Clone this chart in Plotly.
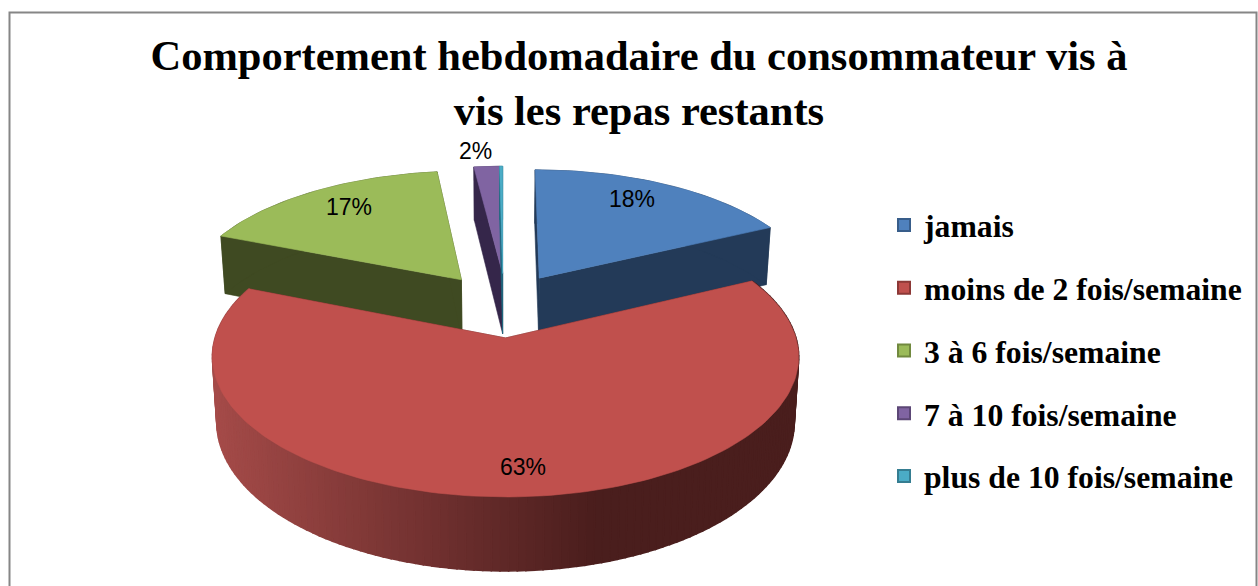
import math
import plotly.graph_objects as go

# ---- data ----
categories = ["jamais", "moins de 2 fois/semaine", "3 à 6 fois/semaine",
              "7 à 10 fois/semaine", "plus de 10 fois/semaine"]
values = [17.8, 63.4, 17.0, 1.7, 0.2]
percent_labels = ["18%", "63%", "17%", "2%", None]
title_text = "Comportement hebdomadaire du consommateur vis à<br>vis les repas restants"

# ---- styles ----
top_colors = ["#4f81bd", "#c0504d", "#9bbb59", "#8064a2", "#4bacc6"]
wall_colors = ["#233a58", "#5a2322", "#3f4a22", "#35264a", "#1f6a80"]
legend_edge = ["#385d8a", "#8c3836", "#71893f", "#5c4776", "#357d91"]

# ---- projection of the tilted pie to the canvas ----
CX, CY = 503.0, 304.7
A, B, K, DEPTH = 281.0, 128.8, 0.13, 62.0
BOTTOM_SHRINK = 0.985
PULL = 0.25
PULL_SHIFT_X = [0.0, 0.0, 0.0, 0.015, 0.0]
FIRST_ANGLE = 0.0
label_xy = [(632, 199), (523, 467), (349, 207), (475, 151)]


def project(px, py, z=0.0):
    w = 1 + K * py
    x = A * px / w
    if z:
        x *= BOTTOM_SHRINK
    return CX + x, CY - (B * py + DEPTH * z) / w


def hexrgb(h):
    return tuple(int(h[i:i + 2], 16) for i in (1, 3, 5))


def side_color(x):
    t = min(max((x - 215) / (600 - 215), 0), 1)
    a, b = hexrgb("#a54b49"), hexrgb("#4a1e1d")
    return "rgb(%d,%d,%d)" % tuple(a[i] + (b[i] - a[i]) * t for i in range(3))


def poly(fig, pts, color, lw=0.6):
    fig.add_trace(go.Scatter(
        x=[p[0] for p in pts] + [pts[0][0]],
        y=[p[1] for p in pts] + [pts[0][1]],
        mode="lines", fill="toself", fillcolor=color,
        line=dict(color=color, width=lw),
        hoverinfo="skip", showlegend=False))


total = sum(values)
spans = []
start = FIRST_ANGLE
for v in values:
    end = start + 360.0 * v / total
    spans.append((start, end))
    start = end


def slice_parts(i):
    s, e = spans[i]
    mid = math.radians((s + e) / 2)
    ox, oy = PULL * math.sin(mid) + PULL_SHIFT_X[i], PULL * math.cos(mid)
    n = max(int((e - s) / 1.5), 2)
    angs = [math.radians(s + (e - s) * k / n) for k in range(n + 1)]
    rim = [(ox + math.sin(a), oy + math.cos(a)) for a in angs]
    return (ox, oy), rim


fig = go.Figure()

for i in [2, 0, 3, 4, 1]:
    apex, rim = slice_parts(i)
    # radial walls
    for edge in (rim[0], rim[-1]):
        poly(fig, [project(*apex), project(*edge),
                   project(*edge, -1), project(*apex, -1)], wall_colors[i])
    # outer rim wall
    if i == 1:
        for a, b in zip(rim[:-1], rim[1:]):
            poly(fig, [project(*a), project(*b), project(*b, -1), project(*a, -1)],
                 side_color(project(*a)[0]), lw=1.6)
    else:
        poly(fig, [project(*p) for p in rim] + [project(*p, -1) for p in reversed(rim)],
             wall_colors[i])
    # top face
    poly(fig, [project(*apex)] + [project(*p) for p in rim], top_colors[i])

# legend entries
for i, name in enumerate(categories):
    fig.add_trace(go.Scatter(
        x=[None], y=[None], mode="markers", name=name, legendgroup=name,
        marker=dict(symbol="square", size=18, color=top_colors[i],
                    line=dict(color=legend_edge[i], width=2))))

annotations = [
    dict(x=x, y=y, text=t, showarrow=False, xanchor="center", yanchor="middle",
         font=dict(family="Liberation Sans", size=23, color="#000"))
    for (x, y), t in zip(label_xy, percent_labels)
]

fig.update_layout(
    width=1258, height=586,
    margin=dict(l=0, r=0, t=0, b=0),
    paper_bgcolor="white", plot_bgcolor="white",
    xaxis=dict(range=[0, 1258], visible=False, fixedrange=True),
    yaxis=dict(range=[586, 0], visible=False, fixedrange=True),
    title=dict(text=title_text, x=639 / 1258, xanchor="center",
               y=1 - 70 / 586, yanchor="middle",
               font=dict(family="Liberation Serif", size=42.5, color="#000", weight="bold")),
    legend=dict(x=884 / 1258, y=1 - 198 / 586, xanchor="left", yanchor="top",
                tracegroupgap=18.5, itemsizing="constant", itemwidth=30,
                bgcolor="rgba(0,0,0,0)",
                font=dict(family="Liberation Serif", size=31.7, color="#000", weight="bold")),
    annotations=annotations,
    shapes=[dict(type="rect", xref="x", yref="y", x0=9.5, y0=12.5, x1=1256.5, y1=620,
                 line=dict(color="#868686", width=2), layer="below")],
)

fig.write_html("out.html", config={"displayModeBar": False},
               post_script="document.body.style.margin='0';")
